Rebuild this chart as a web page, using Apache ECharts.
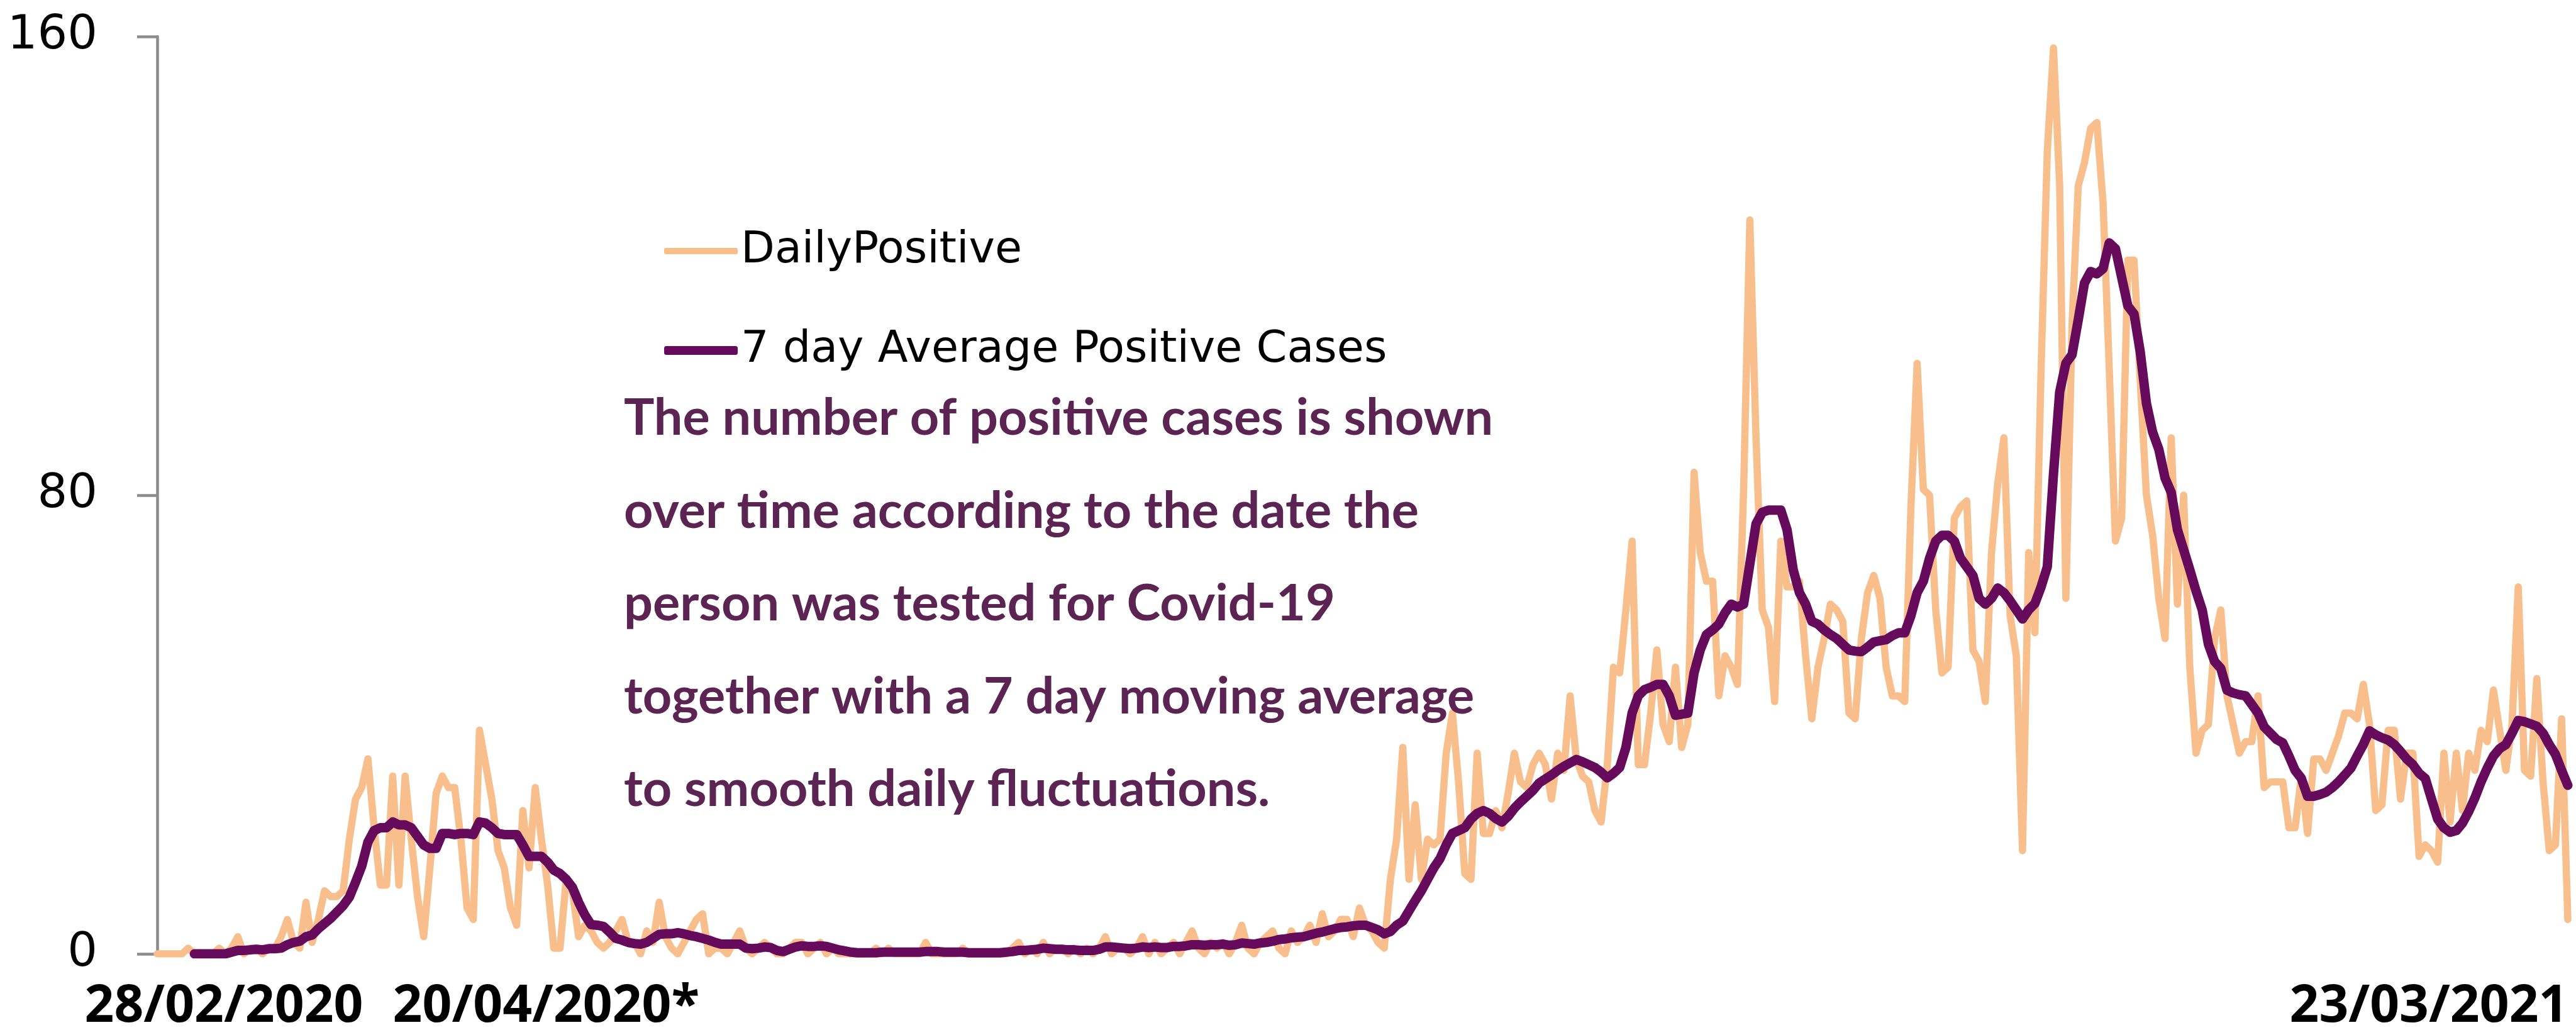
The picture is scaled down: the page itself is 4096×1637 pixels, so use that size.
<!DOCTYPE html>
<html><head><meta charset="utf-8">
<script src="https://cdn.jsdelivr.net/npm/echarts@6/dist/echarts.min.js"></script>
<style>html,body{margin:0;padding:0;background:#fff}#c{width:4096px;height:1637px}</style>
</head><body><div id="c"></div>
<script>
// Daily positive cases, one value per day from 28/02/2020 to 23/03/2021
const dailyPositive = [
0,0,0,0,0,1,0,0,0,0,
1,0,1,3,0,1,1,0,1,1,
3,6,2,1,9,2,6,11,10,10,
11,20,27,29,34,22,12,12,31,12,
31,20,10,3,15,28,31,29,29,20,
8,6,39,33,27,18,15,8,5,25,
15,29,20,12,1,1,13,11,3,5,
4,2,1,2,4,6,2,2,0,4,
2,9,3,1,0,2,4,6,7,0,
1,1,0,2,4,1,0,1,2,1,
0,0,1,2,2,0,1,2,0,1,
0,0,0,0,0,0,1,0,1,0,
0,0,0,0,2,0,0,0,0,0,
1,0,0,0,0,0,0,0,1,2,
0,1,0,2,0,1,1,0,1,0,
1,0,1,3,0,1,1,0,1,3,
0,2,0,1,2,0,2,4,1,0,
2,1,2,0,2,5,1,0,2,3,
4,1,0,4,2,3,5,2,7,3,
4,6,6,3,8,5,4,2,1,13,
20,36,13,26,13,20,19,20,35,42,
30,14,13,35,21,21,25,22,28,35,
30,29,33,35,33,27,35,32,45,34,
31,30,25,23,33,50,49,60,72,33,
33,42,53,40,37,50,36,40,84,70,
65,65,45,52,50,47,81,128,90,60,
57,44,72,64,64,65,52,41,50,55,
61,60,58,42,41,55,63,66,62,50,
45,45,44,78,103,81,80,60,49,50,
76,78,79,53,51,44,70,82,90,59,
52,18,70,56,102,140,158,134,62,110,
134,138,144,145,131,102,72,76,121,121,
100,80,73,62,55,90,61,80,50,35,
39,40,55,60,45,40,35,37,37,45,
29,30,30,30,22,22,31,21,34,34,
32,35,38,42,42,41,47,40,25,26,
39,39,27,35,35,17,19,18,16,35,
23,35,25,35,32,39,37,46,39,32,
40,64,32,31,48,30,18,19,41,6
];

// 7 day average positive cases
const avgPositive = [
null,null,null,null,null,null,0,0,0,0,
0,0,0.3,0.6,0.6,0.7,0.8,0.7,0.9,0.9,
1,1.6,2,2.2,3,3.3,4.4,5.3,6.2,7.3,
8.4,9.9,12.5,15.3,19.5,21.5,22,22,23,22.5,
22.5,22,20.5,19,18.4,18.4,21,21,20.8,21,
21,20.8,23,22.8,22,21,20.8,20.8,20.8,19,
17,17,17,16,14.6,14,13,11.6,9,6.8,
5.1,5,4.8,3.8,2.7,2.4,2,1.8,1.7,2,
2.7,3.4,3.5,3.5,3.7,3.5,3.2,3,2.7,2.4,
2,1.7,1.7,1.7,1.7,1,0.9,1,1.2,1.1,
0.6,0.4,0.8,1.2,1.4,1.3,1.3,1.4,1.3,1,
0.7,0.5,0.3,0.2,0.2,0.2,0.2,0.3,0.3,0.3,
0.3,0.3,0.3,0.3,0.4,0.4,0.4,0.3,0.3,0.3,
0.3,0.2,0.2,0.2,0.2,0.2,0.2,0.3,0.4,0.6,
0.6,0.7,0.8,1,0.9,0.8,0.8,0.7,0.7,0.6,
0.6,0.6,0.8,1.2,1.2,1.1,1,0.9,1,1.2,
1.1,1.2,1.1,1.1,1.3,1.3,1.4,1.6,1.6,1.5,
1.6,1.6,1.7,1.5,1.6,1.9,1.8,1.7,1.9,2,
2.2,2.5,2.6,2.8,2.9,3,3.3,3.6,3.8,4.1,
4.4,4.6,4.7,4.9,5,5,4.6,4.2,3.5,3.9,
5,5.7,7.5,9.3,11,13,15,16.6,19,21,
21.5,22,23.5,24.5,25,24.5,23.6,23,24,25.4,
26.5,27.5,28.5,29.8,30.5,31.2,32,32.7,33.3,33.9,
33.5,33,32.5,31.7,30.7,31.5,32.5,36,42,45,
46.1,46.5,47,47,45,41.6,41.8,42,49,53,
55.7,56.5,57.5,59.5,61,60.5,61,68,75,77,
77.4,77.4,77.4,74,67,63,61,58,57.5,56.5,
55.7,55,54,53,52.8,52.7,53.5,54.4,54.6,54.8,
55.5,56,56,59,63,65,69,72,73,73,
72,69,67.5,66,62,61,62,63.8,63,61.6,
60,58.4,60,61.1,64,67.5,83.7,98,103,104.5,
110.6,117,119,118.6,119.5,124,123,118,113,111.6,
105,96,91,88,83,80.5,74,70.5,67,63.3,
60,54,51,49.8,46,45.5,45.2,45,43.5,42,
39.6,38.5,37.4,36.8,34.5,32,30.6,27.5,27.5,27.8,
28.2,29,30,31.2,32.4,34.5,36.5,38.9,38.2,37.7,
37.3,36.5,35.3,34,33,31.5,30.6,27,23.5,22,
21.2,21.5,22.8,24.8,27.2,30,32.4,34.5,35.8,36.5,
38.5,40.7,40.5,40.1,39.7,38.5,36.5,34.8,32,29.4
];

const seriesNames = ['DailyPositive', '7 day Average Positive Cases'];
const yTicks = [0, 80, 160];
const xTickIndex = [0, 52, 389];
const xTickText = ['28/02/2020', '20/04/2020*', '23/03/2021'];
const noteLines = [
  'The number of positive cases is shown',
  'over time according to the date the',
  'person was tested for Covid-19',
  'together with a 7 day moving average',
  'to smooth daily fluctuations.'
];

// category dates
const categories = dailyPositive.map((v, i) => {
  const d = new Date(2020, 1, 28 + i);
  const p = n => (n < 10 ? '0' : '') + n;
  return p(d.getDate()) + '/' + p(d.getMonth() + 1) + '/' + d.getFullYear();
});

const chart = echarts.init(document.getElementById('c'));
const labelBase = { fontFamily: 'Open Sans', fontWeight: 'bold', fontSize: 82, lineHeight: 90, color: '#000' };
const legendBase = {
  orient: 'vertical', left: 1051, itemWidth: 117, icon: 'roundRect',
  textStyle: { fontFamily: 'DejaVu Sans', fontSize: 70, color: '#000' }
};

// one x axis per group of labels so that none of them is dropped for overlapping
function makeXAxis(which) {
  return {
    type: 'category', data: categories, boundaryGap: false, position: 'bottom',
    axisLine: { show: false }, axisTick: { show: false }, splitLine: { show: false },
    axisLabel: {
      interval: (idx) => which.indexOf(xTickIndex.indexOf(idx)) >= 0,
      showMinLabel: which.indexOf(0) >= 0, showMaxLabel: which.indexOf(xTickIndex.length - 1) >= 0,
      hideOverlap: false,
      margin: 40,
      formatter: (val, idx) => {
        const k = xTickIndex.indexOf(idx);
        if (k < 0 || which.indexOf(k) < 0) return '';
        return (k === xTickIndex.length - 1 ? '{r|' : '{l|') + xTickText[k] + '}';
      },
      rich: {
        l: Object.assign({}, labelBase, { padding: [0, 0, 0, 212] }),
        r: Object.assign({}, labelBase, { padding: [0, 442, 0, 0] })
      }
    }
  };
}

chart.setOption({
  animation: false,
  backgroundColor: '#fff',
  grid: { left: 250, right: 13, top: 58, bottom: 121, containLabel: false, outerBoundsMode: 'none' },
  legend: [
    Object.assign({}, legendBase, { top: 359, itemHeight: 10, data: [seriesNames[0]] }),
    Object.assign({}, legendBase, { top: 517, itemHeight: 14, data: [seriesNames[1]] })
  ],
  xAxis: [makeXAxis([0, 2]), makeXAxis([1])],
  yAxis: {
    type: 'value', min: yTicks[0], max: yTicks[yTicks.length - 1], interval: yTicks[1] - yTicks[0],
    axisLine: { show: true, lineStyle: { color: '#8c8c8c', width: 4.5 } },
    axisTick: { show: true, length: 32, lineStyle: { color: '#8c8c8c', width: 4.5 } },
    axisLabel: { fontFamily: 'DejaVu Sans', fontSize: 75, color: '#000', margin: 95, showMinLabel: true, showMaxLabel: true },
    splitLine: { show: false }
  },
  series: [
    {
      name: seriesNames[0], type: 'line', data: dailyPositive, symbol: 'none', xAxisIndex: 0,
      itemStyle: { color: '#F8BE8C' },
      lineStyle: { color: '#F8BE8C', width: 11.5, join: 'round', cap: 'round' }, z: 2
    },
    {
      name: seriesNames[1], type: 'line', data: avgPositive, symbol: 'none', xAxisIndex: 0,
      itemStyle: { color: '#660A5C' },
      lineStyle: { color: '#660A5C', width: 15, join: 'round', cap: 'round' }, z: 3
    }
  ],
  graphic: [{
    type: 'text', left: 992, top: 591, z: 10,
    style: {
      text: noteLines.join('\n'), fontFamily: 'Lato', fontWeight: 'bold', fontSize: 81,
      lineHeight: 147.6, fill: '#5B2452'
    }
  }]
});
</script>
</body></html>
